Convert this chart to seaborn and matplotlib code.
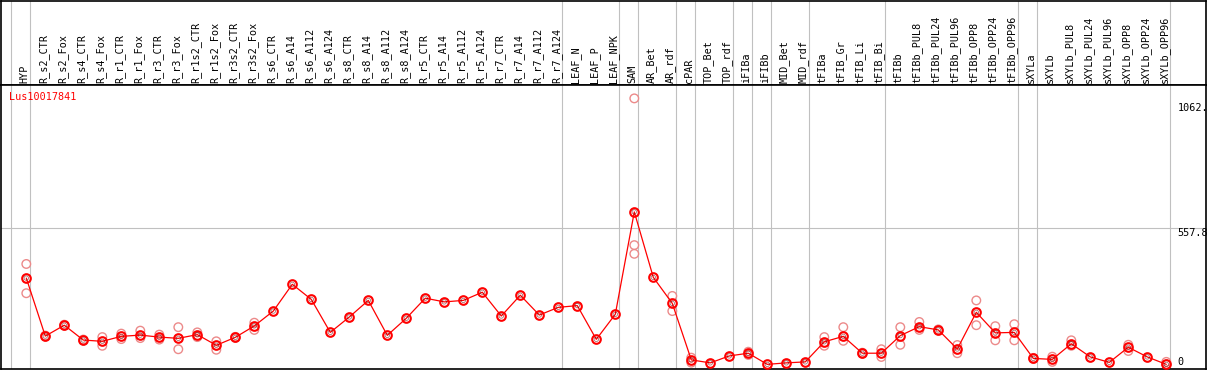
import numpy as np
import pandas as pd
import matplotlib
matplotlib.use("Agg")
import matplotlib.pyplot as plt
import seaborn as sns
from matplotlib.transforms import ScaledTranslation

nan = np.nan

gene_id = "Lus10017841"

categories = [
    "HYP", "R_s2_CTR", "R_s2_Fox", "R_s4_CTR", "R_s4_Fox", "R_r1_CTR", "R_r1_Fox",
    "R_r3_CTR", "R_r3_Fox", "R_r1s2_CTR", "R_r1s2_Fox", "R_r3s2_CTR", "R_r3s2_Fox",
    "R_s6_CTR", "R_s6_A14", "R_s6_A112", "R_s6_A124", "R_s8_CTR", "R_s8_A14",
    "R_s8_A112", "R_s8_A124", "R_r5_CTR", "R_r5_A14", "R_r5_A112", "R_r5_A124",
    "R_r7_CTR", "R_r7_A14", "R_r7_A112", "R_r7_A124", "LEAF_N", "LEAF_P", "LEAF_NPK",
    "SAM", "AR_Bet", "AR_rdf", "cPAR", "TOP_Bet", "TOP_rdf", "iFIBa", "iFIBb",
    "MID_Bet", "MID_rdf", "tFIBa", "tFIB_Gr", "tFIB_Li", "tFIB_Bi", "tFIBb",
    "tFIBb_PUL8", "tFIBb_PUL24", "tFIBb_PUL96", "tFIBb_OPP8", "tFIBb_OPP24",
    "tFIBb_OPP96", "sXYLa", "sXYLb", "sXYLb_PUL8", "sXYLb_PUL24", "sXYLb_PUL96",
    "sXYLb_OPP8", "sXYLb_OPP24", "sXYLb_OPP96",
]

mean_vals = [
    357, 123, 167, 107, 102, 122, 127, 119, 114, 129, 86, 118, 164,
    224, 332, 271, 138, 200, 267, 126, 195, 276, 261, 267, 300,
    204, 288, 208, 239, 246, 110, 211,
    624, 360, 255, 27, 15, 43, 54, 9,
    15, 19, 100, 122, 54, 54, 125,
    161, 148, 71, 219, 136, 138,
    33, 29, 92, 39, 17, 78, 39, 9,
]

rep_a = [
    414, 125, 169, 109, 119, 133, 145, 129, 159, 138, 102, 120, 177,
    nan, nan, nan, nan, nan, nan, nan, nan, nan, nan, nan, nan,
    nan, nan, nan, nan, nan, nan, nan,
    1082, nan, 285, 36, nan, nan, 60, nan,
    nan, nan, 119, 159, 56, 70, 159,
    180, 150, 87, 267, 163, 171,
    35, 40, 106, nan, nan, 88, nan, 19,
]

rep_b = [
    296, 121, 165, 105, 84, 111, 115, 109, 70, 119, 68, 116, 148,
    nan, nan, nan, nan, nan, nan, nan, nan, nan, nan, nan, nan,
    nan, nan, nan, nan, nan, nan, nan,
    490, nan, 224, 16, nan, nan, 47, nan,
    nan, nan, 84, 104, 52, 39, 88,
    148, 146, 54, 167, 106, 106,
    31, 19, 84, nan, nan, 63, nan, 9,
]

rep_c = [nan] * 61
rep_c[32] = 455

group_breaks = [-1, 0, 28, 31, 32, 34, 35, 37, 38, 39, 41, 45, 52, 53, 60]
y_ticks = [0, 557.8, 1062]
y_tick_labels = ["0", "557.8", "1062."]

# ---------------------------------------------------------------
sns.set_theme(style="white")
plt.rcParams["font.family"] = ["DejaVu Sans Mono", "DejaVu Sans"]

W, H = 1209, 370
FS = 7.3
fig = plt.figure(figsize=(W / 100, H / 100), dpi=100)
fig.patch.set_facecolor("white")

axh = fig.add_axes([1 / W, 285 / H, 1205 / W, (369.5 - 285) / H])
ax = fig.add_axes([1 / W, 1.3 / H, 1205 / W, (285 - 1.3) / H])
axh.patch.set_visible(False)

x_idx = np.arange(len(categories))
x0, step = 26.3, 19.0
xlim = ((1 - x0) / step, (1206 - x0) / step)
ax.set_xlim(*xlim)
axh.set_xlim(*xlim)
ax.set_ylim(-8.5, 1136)
axh.set_ylim(0, 1)

grid_c = "#c0c0c0"
for b in group_breaks:
    for a in (ax, axh):
        a.axvline(b + 4 / step, color=grid_c, lw=0.8, zorder=0)
ax.axhline(557.8, color=grid_c, lw=0.8, zorder=0)

df_mean = pd.DataFrame({"x": x_idx, "val": mean_vals})
reps = pd.DataFrame({
    "x": np.concatenate([x_idx, x_idx, x_idx]),
    "val": np.concatenate([rep_a, rep_b, rep_c]),
}).dropna()

sns.scatterplot(data=reps, x="x", y="val", ax=ax, s=38, marker="o",
                facecolor="none", edgecolor="#ec8a8a", linewidth=1.0,
                zorder=2, legend=False)
sns.lineplot(data=df_mean, x="x", y="val", ax=ax, color="#ff0000", lw=0.9,
             marker="o", markersize=6.2, markerfacecolor="none",
             markeredgecolor="#ff0000", markeredgewidth=1.5, zorder=3)
sns.scatterplot(data=df_mean, x="x", y="val", ax=ax, s=10, marker="o",
                facecolor="none", edgecolor="#600000", linewidth=0.6,
                alpha=0.55, zorder=4, legend=False)

# axes text / ticks
ax.set_xlabel("")
ax.set_ylabel("")
ax.set_yticks([])
ax.xaxis.tick_top()
ax.set_xticks(x_idx)
ax.set_xticklabels(categories, rotation=90, fontsize=FS, color="black")
ax.tick_params(axis="x", top=True, length=0, pad=1.5, labeltop=True,
               labelbottom=False, bottom=False)
off = ScaledTranslation(-2 / 100, 0, fig.dpi_scale_trans)
for lab in ax.get_xticklabels():
    lab.set_transform(lab.get_transform() + off)

axh.set_xticks([])
axh.set_yticks([])

xt = (1177.5 - x0) / step
for v, t in zip(y_ticks, y_tick_labels):
    ax.text(xt, v, t, fontsize=FS, color="black", ha="left",
            va="bottom" if v == 0 else "top")

ax.text((9 - x0) / step, 1086, gene_id, color="#ff0000", fontsize=FS,
        ha="left", va="center")

for a in (ax, axh):
    for s in a.spines.values():
        s.set_color("black")
        s.set_linewidth(1.2)
        s.set_visible(True)

fig.savefig("out.png", dpi=100, facecolor="white")
